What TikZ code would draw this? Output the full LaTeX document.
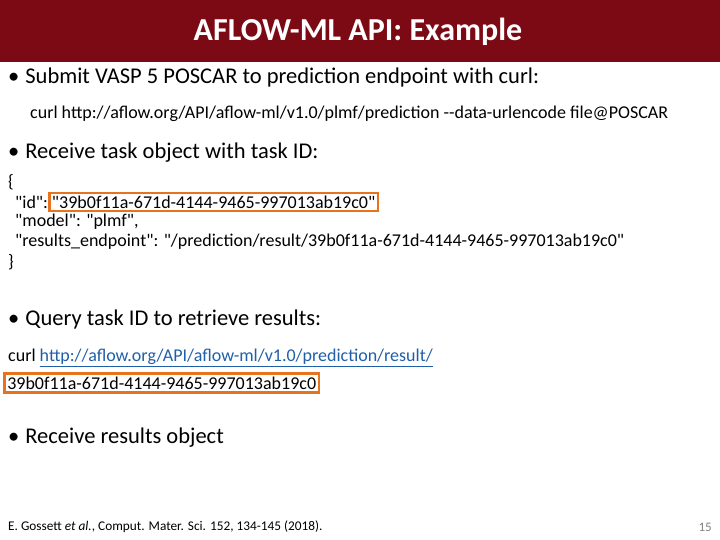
\documentclass[tikz,border=0pt]{standalone}
\usepackage{fontspec}
\setmainfont{Carlito}
\newfontfamily\codefont{Carlito}
\definecolor{hdr}{HTML}{7B0A14}
\definecolor{obox}{HTML}{E8731E}
\definecolor{lnk}{HTML}{1F5FA8}
\begin{document}
\begin{tikzpicture}[x=1pt,y=-1pt,
  bul/.style={anchor=west,inner sep=0,font=\fontsize{22.5}{26}\selectfont},
  code/.style={anchor=west,inner sep=0,font=\codefont\fontsize{18}{21}\selectfont},
  hl/.style={draw=obox,line width=2.5pt}]
\useasboundingbox (0,0) rectangle (720,540);
\fill[hdr] (0,0) rectangle (720,62);
\node[text=white,font=\bfseries\fontsize{32}{36}\selectfont] (title) at (358,32) {AFLOW-ML API: Example};
\node[bul] (b1) at (8,78) {\textbullet\hspace{6pt}Submit VASP 5 POSCAR to prediction endpoint with curl:};
\node[code] (c1) at (30,114) {curl http://aflow.org/API/aflow-ml/v1.0/plmf/prediction --data-urlencode file@POSCAR};
\node[bul] (b2) at (8,153) {\textbullet\hspace{6pt}Receive task object with task ID:};
\node[code] (j1) at (8,182) {\{};
\node[code] (j2) at (15,202) {"id":\ };
\node[code,hl,inner sep=2.5pt,anchor=base west] (j2b) at (j2.base east) {"39b0f11a-671d-4144-9465-997013ab19c0"};
\node[code] (j3) at (15,222) {"model": "plmf",};
\node[code] (j4) at (15,242) {"results\_endpoint": "/prediction/result/39b0f11a-671d-4144-9465-997013ab19c0"};
\node[code] (j5) at (8,262) {\}};
\node[bul] (b3) at (8,320) {\textbullet\hspace{6pt}Query task ID to retrieve results:};
\node[code] (q1) at (8,358) {curl \textcolor{lnk}{\underline{http://aflow.org/API/aflow-ml/v1.0/prediction/result/}}};
\node[code,hl,inner sep=3pt,anchor=west] (q2) at (3,383) {39b0f11a-671d-4144-9465-997013ab19c0};
\node[bul] (b4) at (8,438) {\textbullet\hspace{6pt}Receive results object};
\node[anchor=west,inner sep=0,font=\fontsize{13.3}{15}\selectfont] (ref) at (8,527) {E. Gossett \textit{et al.}, Comput. Mater. Sci. 152, 134-145 (2018).};
\node[anchor=east,inner sep=0,text=gray,font=\fontsize{13}{15}\selectfont] (pg) at (712,527) {15};
\end{tikzpicture}
\end{document}
